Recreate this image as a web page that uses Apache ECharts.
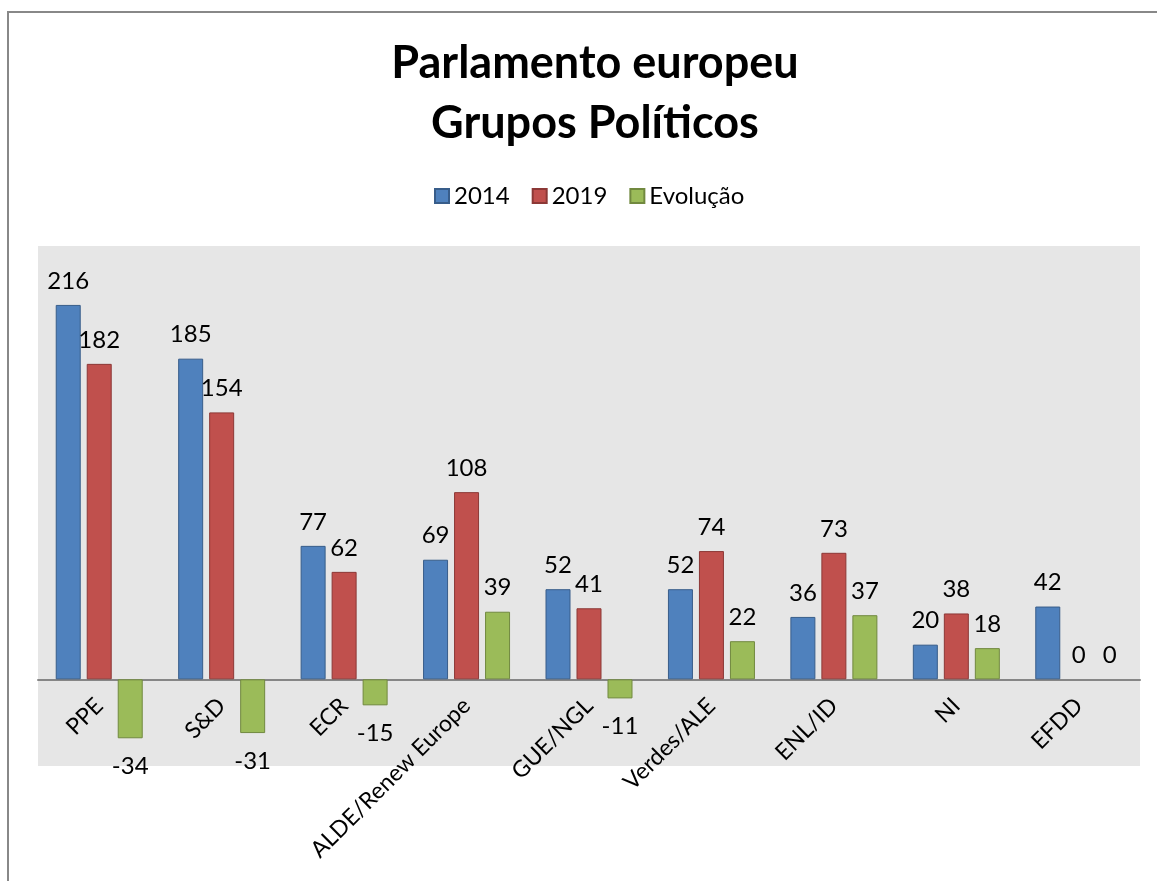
<!DOCTYPE html>
<html>
<head>
<meta charset="utf-8">
<script src="https://cdn.jsdelivr.net/npm/echarts@6/dist/echarts.min.js"></script>
<style>
    html, body { margin: 0; padding: 0; background: #fff; }
    #chart { width: 1157px; height: 881px; }
</style>
</head>
<body>
<div id="chart"></div>
<script>
// dados
const categories = ['PPE', 'S&D', 'ECR', 'ALDE/Renew Europe', 'GUE/NGL', 'Verdes/ALE', 'ENL/ID', 'NI', 'EFDD'];
const seriesNames = ['2014', '2019', 'Evolução'];
const v2014 = [216, 185, 77, 69, 52, 52, 36, 20, 42];
const v2019 = [182, 154, 62, 108, 41, 74, 73, 38, 0];
const evolucao = [-34, -31, -15, 39, -11, 22, 37, 18, 0];

const font = 'Lato, "Open Sans", sans-serif';

// labels abaixo da barra quando o valor e negativo; sem borda quando e zero
function withLabels(arr) {
    return arr.map(function (v) {
        let item = { value: v, label: { position: v < 0 ? 'bottom' : 'top', distance: v < 0 ? 16 : 12 } };
        if (v === 0) item.itemStyle = { borderWidth: 0 };
        return item;
    });
}

function barSeries(name, data, color, border) {
    return {
        name: name,
        type: 'bar',
        barWidth: 25,
        barGap: '24%',
        data: withLabels(data),
        itemStyle: { color: color, borderColor: border, borderWidth: 1 },
        label: { show: true, color: '#000', fontSize: 24, fontFamily: font }
    };
}

let chart = echarts.init(document.getElementById('chart'));
chart.setOption({
    animation: false,
    title: {
        text: 'Parlamento europeu\nGrupos Políticos',
        left: 590,
        textAlign: 'center',
        top: 28,
        textStyle: { fontSize: 45, fontWeight: 'bold', fontFamily: font, color: '#000', lineHeight: 60 }
    },
    legend: {
        data: seriesNames,
        left: 429,
        top: 179,
        icon: 'rect',
        itemWidth: 14,
        itemHeight: 14,
        itemGap: 22,
        textStyle: { fontSize: 24, fontFamily: font, color: '#000' }
    },
    graphic: [{
        type: 'rect',
        shape: { x: 8, y: 12, width: 1200, height: 900 },
        style: { fill: null, stroke: '#888', lineWidth: 2 },
        z: -10
    }],
    grid: {
        left: 38,
        right: 17,
        top: 246,
        bottom: 115,
        containLabel: false,
        outerBoundsMode: 'none',
        show: true,
        backgroundColor: '#e6e6e6',
        borderWidth: 0
    },
    xAxis: {
        type: 'category',
        data: categories,
        axisLine: { onZero: true, lineStyle: { color: '#868686', width: 2 } },
        axisTick: { show: false },
        axisLabel: { rotate: 45, fontSize: 23, fontFamily: font, color: '#000', margin: -64, interval: 0, overflow: 'none' }
    },
    yAxis: {
        type: 'value',
        min: -50,
        max: 250,
        show: false,
        splitLine: { show: false }
    },
    series: [
        barSeries('2014', v2014, '#4f81bd', '#385d8a'),
        barSeries('2019', v2019, '#c0504d', '#8c3836'),
        barSeries('Evolução', evolucao, '#9bbb59', '#71893f')
    ]
});
</script>
</body>
</html>
